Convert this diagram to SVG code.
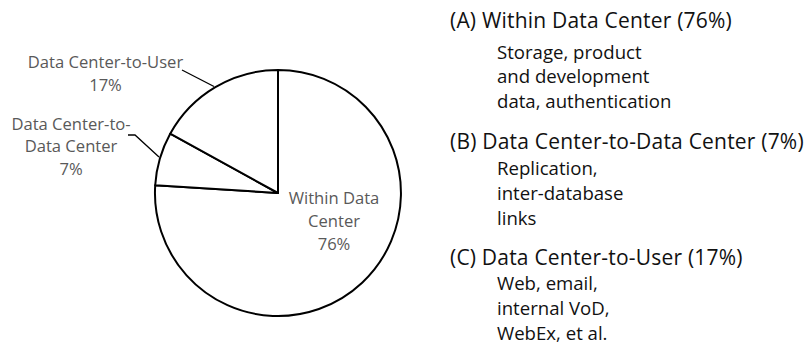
<svg xmlns="http://www.w3.org/2000/svg" width="806" height="345" viewBox="0 0 806 345">
<style>
.pie{fill:#fff;stroke:#000;stroke-width:2;stroke-linejoin:round}
.lbl{font-family:"Open Sans","Liberation Sans",sans-serif;font-size:16.6px;fill:#595959}
.h{font-family:"Open Sans","Liberation Sans",sans-serif;font-size:21px;letter-spacing:0.2px;fill:#111}
.s{font-family:"Open Sans","Liberation Sans",sans-serif;font-size:18.6px;fill:#111}
.lead{fill:none;stroke:#000;stroke-width:1.3}
</style>
<rect width="806" height="345" fill="#fff"/>
<g id="pie">
<g id="slice-within"><path class="pie" d="M278,193 L278,70 A123,123 0 1 1 155.2,185.3 Z"/></g>
<g id="slice-dc2dc"><path class="pie" d="M278,193 L155.2,185.3 A123,123 0 0 1 170.2,133.7 Z"/></g>
<g id="slice-dc2user"><path class="pie" d="M278,193 L170.2,133.7 A123,123 0 0 1 278,70 Z"/></g>
</g>
<g id="connectors">
<path class="lead" d="M182,70 L214,86.5"/>
<path class="lead" d="M128,135 L135,135 L159,157"/>
</g>
<g id="label-dc2user" class="lbl" text-anchor="middle">
<text x="105.5" y="68">Data Center-to-User</text>
<text x="105.5" y="91">17%</text>
</g>
<g id="label-dc2dc" class="lbl" text-anchor="middle">
<text x="71" y="130">Data Center-to-</text>
<text x="71" y="152">Data Center</text>
<text x="71" y="175">7%</text>
</g>
<g id="label-within" class="lbl" text-anchor="middle">
<text x="334" y="204">Within Data</text>
<text x="334" y="227">Center</text>
<text x="334" y="250">76%</text>
</g>
<g id="legend-a">
<text class="h" x="450" y="28">(A) Within Data Center (76%)</text>
<text class="s" x="497" y="59">Storage, product</text>
<text class="s" x="497" y="83">and development</text>
<text class="s" x="497" y="108">data, authentication</text>
</g>
<g id="legend-b">
<text class="h" x="450" y="149">(B) Data Center-to-Data Center (7%)</text>
<text class="s" x="497" y="175">Replication,</text>
<text class="s" x="497" y="200">inter-database</text>
<text class="s" x="497" y="225">links</text>
</g>
<g id="legend-c">
<text class="h" x="450" y="265">(C) Data Center-to-User (17%)</text>
<text class="s" x="497" y="290">Web, email,</text>
<text class="s" x="497" y="315">internal VoD,</text>
<text class="s" x="497" y="340">WebEx, et al.</text>
</g>
</svg>
